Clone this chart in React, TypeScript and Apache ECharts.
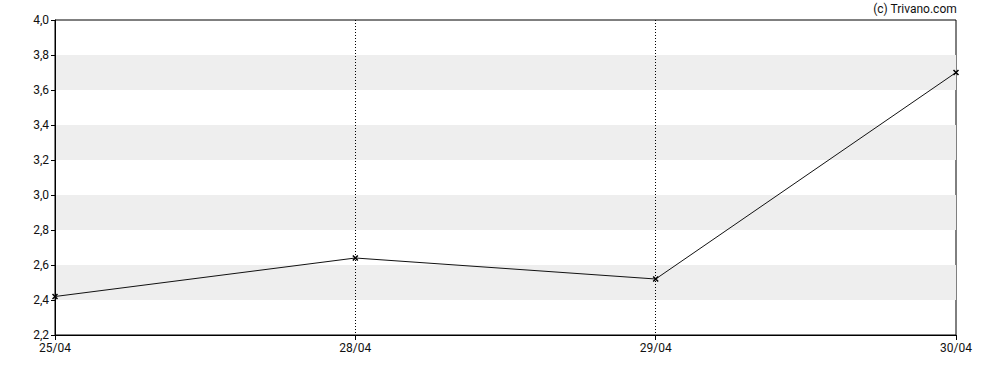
import React, { useEffect, useRef } from "react";
import * as echarts from "echarts";

const categories = ["25/04", "28/04", "29/04", "30/04"];
const values = [2.42, 2.64, 2.52, 3.7];
const yMin = 2.2;
const yMax = 4.0;
const yInterval = 0.2;
const copyright = "(c) Trivano.com";

export default function App() {
  const ref = useRef<HTMLDivElement>(null);
  useEffect(() => {
    if (!ref.current) return;
    const chart = echarts.init(ref.current, null, { renderer: "svg" });
    const last = categories.length - 1;
    chart.setOption({
      animation: false,
      textStyle: { fontFamily: "Roboto" },
      graphic: [
        {
          type: "text",
          right: 31,
          top: 3,
          style: {
            text: copyright,
            fontSize: 12,
            fontFamily: "Roboto",
            fill: "#111",
          },
        },
      ],
      grid: {
        left: 55,
        right: 32,
        top: 20,
        bottom: 35,
        show: true,
        borderColor: "#000",
        borderWidth: 1,
        backgroundColor: "transparent",
      },
      xAxis: {
        type: "category",
        data: categories,
        boundaryGap: false,
        axisLine: { show: true, lineStyle: { color: "#000", width: 1 } },
        axisTick: { show: true, length: 5, lineStyle: { color: "#000" } },
        axisLabel: { color: "#111", fontSize: 12, margin: 7, fontFamily: "Roboto" },
        splitLine: {
          show: true,
          interval: (i: number) => i !== 0 && i !== last,
          lineStyle: { color: "#000", type: [1, 2], width: 1 },
        },
      },
      yAxis: {
        type: "value",
        min: yMin,
        max: yMax,
        interval: yInterval,
        axisLine: { show: true, lineStyle: { color: "#000", width: 1 } },
        axisTick: { show: true, length: 4, lineStyle: { color: "#000" } },
        axisLabel: {
          color: "#111",
          fontSize: 12,
          margin: 6,
          fontFamily: "Roboto",
          formatter: (v: number) => v.toFixed(1).replace(".", ","),
        },
        splitLine: { show: false },
        splitArea: { show: true, areaStyle: { color: ["rgba(0,0,0,0)", "#eeeeee"] } },
      },
      series: [
        {
          type: "line",
          data: values,
          symbol: "path://M0,0L10,10M10,0L0,10",
          symbolSize: 5,
          showSymbol: true,
          itemStyle: { color: "#000", borderColor: "#000", borderWidth: 1.5 },
          lineStyle: { color: "#111", width: 1 },
        },
      ],
    });
    return () => chart.dispose();
  }, []);
  return (
    <div
      ref={ref}
      style={{ position: "absolute", left: 0, top: 0, width: 988, height: 370 }}
    />
  );
}
